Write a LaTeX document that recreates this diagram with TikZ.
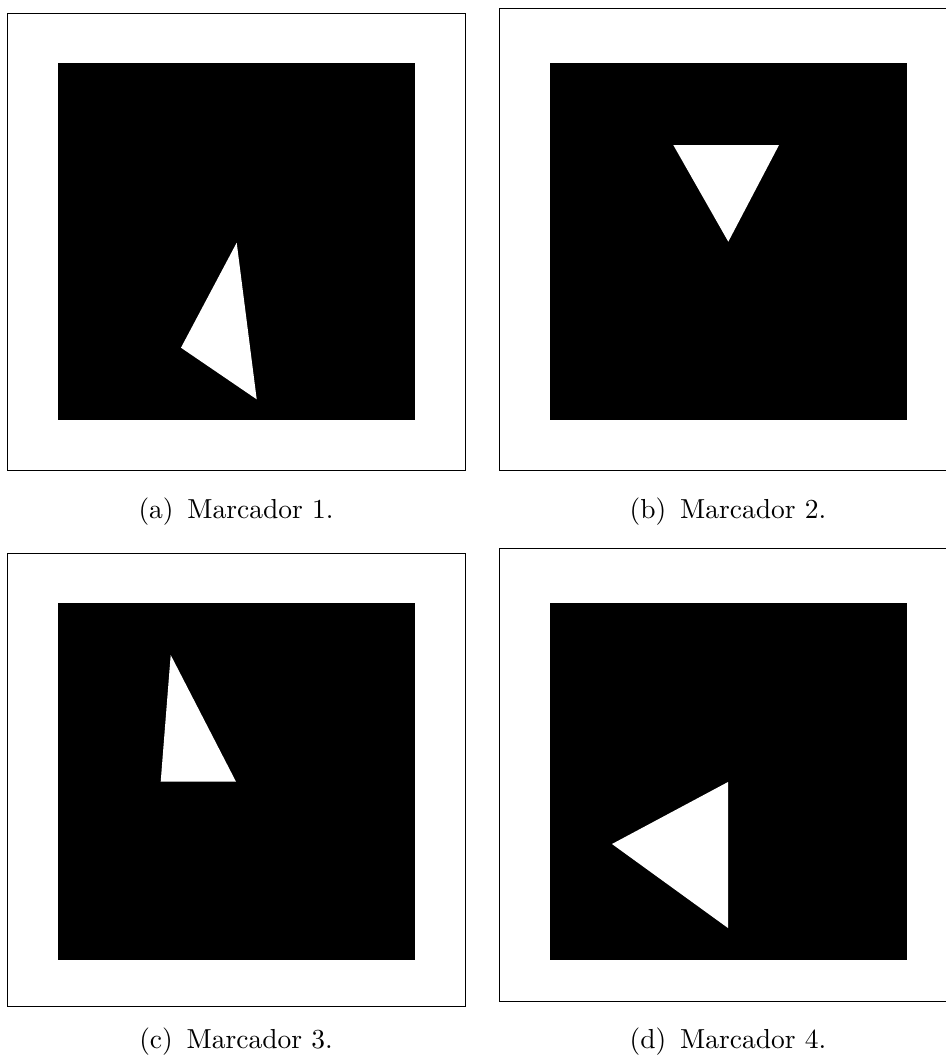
\documentclass[tikz,border=0pt]{standalone}
\usepackage{tikz}
\newcommand{\marcador}[3]{
  \begin{scope}
    \draw[line width=.3pt] #1;
    \fill (#2) rectangle ++(357,357);
    \fill[white] #3 -- cycle;
  \end{scope}
}

\begin{document}
\begin{tikzpicture}[x=0.3636pt,y=-0.3636pt]
    \useasboundingbox (0,0) rectangle (946,1055);
    \marcador{(7,13) rectangle (465,470)}{58,63}{(236.7,242.7) -- (181,347.7) -- (256.7,399.3)}
    \marcador{(499,8) rectangle (952,470)}{550,63}{(673.3,145) -- (779,145) -- (728.3,241.7)}
    \marcador{(7,553) rectangle (465,1006)}{58,603}{(170.7,655) -- (160.7,781.7) -- (236,781.7)}
    \marcador{(499,548) rectangle (952,1001)}{550,603}{(728,782) -- (612,844) -- (728,928)}
    \node (capa) at (236,512) {(a)\, Marcador 1.};
    \node (capb) at (728,512) {(b)\, Marcador 2.};
    \node (capc) at (236,1042) {(c)\, Marcador 3.};
    \node (capd) at (728,1042) {(d)\, Marcador 4.};
  \end{tikzpicture}
\end{document}
